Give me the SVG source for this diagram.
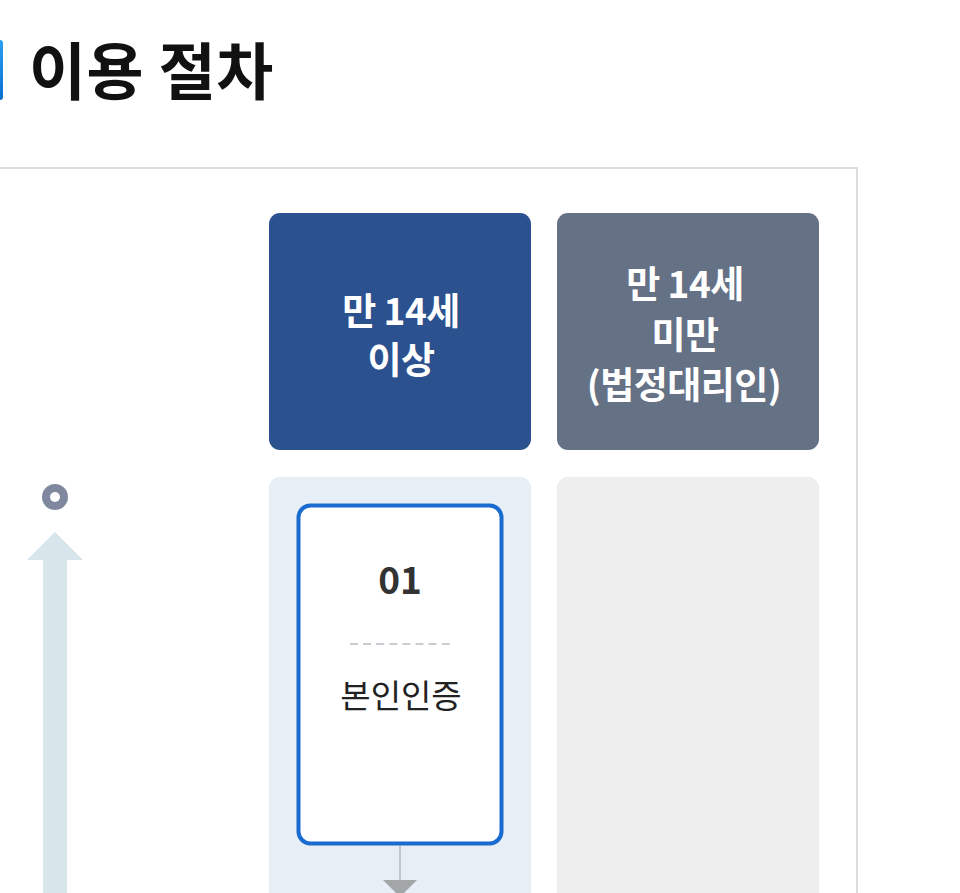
<svg xmlns="http://www.w3.org/2000/svg" width="960" height="893" viewBox="0 0 960 893">
<defs>
<style>
.t{font-family:"Noto Sans CJK KR","Noto Sans",sans-serif}
.hd{font-size:37px;font-weight:700;fill:#fff;text-anchor:middle;letter-spacing:-0.5px}
</style>
<linearGradient id="bar" x1="0" y1="0" x2="0" y2="1"><stop offset="0" stop-color="#2a9ff0"/><stop offset="1" stop-color="#0a6fd0"/></linearGradient>
</defs>
<rect width="960" height="893" fill="#fff"/>
<g id="title">
<rect x="-8" y="40" width="11" height="60" rx="3" fill="url(#bar)"/>
<text class="t" x="29" y="95" font-size="62" font-weight="700" fill="#111" letter-spacing="0.5">이용 절차</text>
</g>
<rect id="frame" x="-10" y="168" width="867" height="740" fill="none" stroke="#dddddd" stroke-width="2"/>
<g id="timeline">
<circle cx="55" cy="497" r="13" fill="#80889f"/>
<circle cx="55" cy="497" r="5" fill="#fff"/>
<polygon points="55,532 83,560 27,560" fill="#d6e6eb"/>
<rect x="43" y="559" width="24" height="340" fill="#d6e6eb"/>
</g>
<g id="header-adult">
<rect x="269" y="213" width="262" height="237" rx="11" fill="#2c518f"/>
<text class="t hd" x="401" y="325">만 14세</text>
<text class="t hd" x="401" y="374">이상</text>
</g>
<g id="header-minor">
<rect x="557" y="213" width="262" height="237" rx="11" fill="#657185"/>
<text class="t hd" x="685" y="298">만 14세</text>
<text class="t hd" x="685" y="349">미만</text>
<text class="t hd" x="684" y="399" font-size="33">(법정대리인)</text>
</g>
<g id="panel-adult">
<rect x="269" y="477" width="262" height="440" rx="11" fill="#e7eef5"/>
</g>
<g id="panel-minor">
<rect x="557" y="477" width="262" height="440" rx="11" fill="#eeeeee"/>
</g>
<g id="step-01">
<rect x="298.5" y="505.5" width="203" height="338" rx="12" fill="#fff" stroke="#1a6bd0" stroke-width="4"/>
<text class="t" x="400" y="594" font-size="37" font-weight="700" fill="#333" text-anchor="middle">01</text>
<line x1="350" y1="644" x2="450" y2="644" stroke="#c8cdd2" stroke-width="2" stroke-dasharray="8,5.1"/>
<text class="t" x="401" y="708" font-size="33" fill="#222" text-anchor="middle">본인인증</text>
</g>
<g id="connectors">
<line x1="400" y1="846" x2="400" y2="882" stroke="#c4c7ca" stroke-width="2"/>
<polygon points="383,880 417,880 400,897" fill="#a3a6a9"/>
</g>
</svg>
